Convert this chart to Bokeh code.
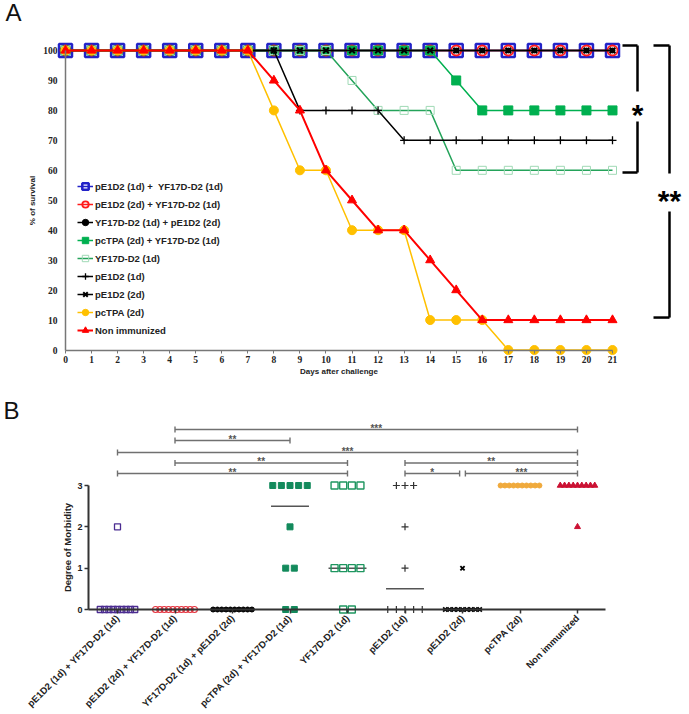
import numpy as np
from math import pi
from bokeh.plotting import figure
from bokeh.models import Range1d, FixedTicker, Legend, LegendItem, Label
from bokeh.layouts import column
from bokeh.embed import file_html
from bokeh.resources import INLINE
from bokeh.core.properties import value

# ---------------- Panel A data: % survival per day ----------------
days = [0, 1, 2, 3, 4, 5, 6, 7, 8, 9, 10, 11, 12, 13, 14, 15, 16, 17, 18, 19, 20, 21]
series_labels = [
    "pE1D2 (1d) +  YF17D-D2 (1d)",
    "pE1D2 (2d) + YF17D-D2 (1d)",
    "YF17D-D2 (1d) + pE1D2 (2d)",
    "pcTPA (2d) + YF17D-D2 (1d)",
    "YF17D-D2 (1d)",
    "pE1D2 (1d)",
    "pE1D2 (2d)",
    "pcTPA (2d)",
    "Non immunized",
]
surv_pE1D2_1d_YF = [100, 100, 100, 100, 100, 100, 100, 100, 100, 100, 100, 100, 100, 100, 100, 100, 100, 100, 100, 100, 100, 100]
surv_pE1D2_2d_YF = [100, 100, 100, 100, 100, 100, 100, 100, 100, 100, 100, 100, 100, 100, 100, 100, 100, 100, 100, 100, 100, 100]
surv_YF_pE1D2_2d = [100, 100, 100, 100, 100, 100, 100, 100, 100, 100, 100, 100, 100, 100, 100, 100, 100, 100, 100, 100, 100, 100]
surv_pcTPA_YF = [100, 100, 100, 100, 100, 100, 100, 100, 100, 100, 100, 100, 100, 100, 100, 90, 80, 80, 80, 80, 80, 80]
surv_YF = [100, 100, 100, 100, 100, 100, 100, 100, 100, 100, 100, 90, 80, 80, 80, 60, 60, 60, 60, 60, 60, 60]
surv_pE1D2_1d = [100, 100, 100, 100, 100, 100, 100, 100, 100, 80, 80, 80, 80, 70, 70, 70, 70, 70, 70, 70, 70, 70]
surv_pE1D2_2d = [100, 100, 100, 100, 100, 100, 100, 100, 100, 100, 100, 100, 100, 100, 100, 100, 100, 100, 100, 100, 100, 100]
surv_pcTPA = [100, 100, 100, 100, 100, 100, 100, 100, 80, 60, 60, 40, 40, 40, 10, 10, 10, 0, 0, 0, 0, 0]
surv_nonimm = [100, 100, 100, 100, 100, 100, 100, 100, 90, 80, 60, 50, 40, 40, 30, 20, 10, 10, 10, 10, 10, 10]
yticks_A = [0, 10, 20, 30, 40, 50, 60, 70, 80, 90, 100]
# survival comparisons: (reference group, compared group, significance)
surv_comparisons = [(0, 4, "*"), (0, 8, "**")]

# ---------------- Panel B data: degree of morbidity ----------------
groups_B = [
    "pE1D2 (1d) + YF17D-D2 (1d)",
    "pE1D2 (2d) + YF17D-D2 (1d)",
    "YF17D-D2 (1d) + pE1D2 (2d)",
    "pcTPA (2d) + YF17D-D2 (1d)",
    "YF17D-D2 (1d)",
    "pE1D2 (1d)",
    "pE1D2 (2d)",
    "pcTPA (2d)",
    "Non immunized",
]
morb_pE1D2_1d_YF = [2, 0, 0, 0, 0, 0, 0, 0, 0, 0]
morb_pE1D2_2d_YF = [0, 0, 0, 0, 0, 0, 0, 0, 0, 0]
morb_YF_pE1D2_2d = [0, 0, 0, 0, 0, 0, 0, 0, 0, 0]
morb_pcTPA_YF = [3, 3, 3, 3, 3, 2, 1, 1, 0, 0]
morb_YF = [3, 3, 3, 3, 1, 1, 1, 1, 0, 0]
morb_pE1D2_1d = [3, 3, 3, 2, 1, 0, 0, 0, 0, 0]
morb_pE1D2_2d = [1, 0, 0, 0, 0, 0, 0, 0, 0, 0]
morb_pcTPA = [3, 3, 3, 3, 3, 3, 3, 3, 3, 3]
morb_nonimm = [3, 3, 3, 3, 3, 3, 3, 3, 3, 2]
yticks_B = [0, 1, 2, 3]
# morbidity comparisons: (group i, group j, significance)
morb_comparisons = [(1, 8, "***"), (1, 3, "**"), (0, 8, "***"), (1, 4, "**"),
                    (5, 8, "**"), (0, 4, "**"), (5, 6, "*"), (6, 8, "***")]

surv_all = [surv_pE1D2_1d_YF, surv_pE1D2_2d_YF, surv_YF_pE1D2_2d, surv_pcTPA_YF, surv_YF,
            surv_pE1D2_1d, surv_pE1D2_2d, surv_pcTPA, surv_nonimm]
morb_all = [morb_pE1D2_1d_YF, morb_pE1D2_2d_YF, morb_YF_pE1D2_2d, morb_pcTPA_YF, morb_YF,
            morb_pE1D2_1d, morb_pE1D2_2d, morb_pcTPA, morb_nonimm]

SANS = value("Liberation Sans")
SERIF = "Liberation Serif"
W = 689

# ================= Panel A =================
A_H = 378
A_x0px, A_x21px, A_y100px, A_y0px = 65, 612, 50, 349.5
pxd = (A_x21px - A_x0px) / 21.0
pyd = (A_y0px - A_y100px) / 100.0

pA = figure(frame_width=W, frame_height=A_H,
            min_border_left=0, min_border_right=0, min_border_top=0, min_border_bottom=0,
            x_range=Range1d(-A_x0px / pxd, 21 + (W - A_x21px) / pxd),
            y_range=Range1d(-(A_H - A_y0px) / pyd, 100 + A_y100px / pyd),
            output_backend="svg", toolbar_location=None)
pA.outline_line_color = None
pA.grid.visible = False

A_styles = [
    dict(lc="#2323c8", lw=1.5, m="square", s=13, ml="#2323c8", mf=None, mlw=2.5),
    dict(lc="#ff1a1a", lw=1.5, m="circle", s=10, ml="#ff1a1a", mf=None, mlw=1.8),
    dict(lc="#000000", lw=1.5, m="circle", s=5, ml="#000000", mf="#000000", mlw=1),
    dict(lc="#00b050", lw=1.5, m="square", s=9, ml="#00b050", mf="#00b050", mlw=1),
    dict(lc="#24a35a", lw=1.5, m="square", s=8, ml="#9fd9b5", mf=None, mlw=1),
    dict(lc="#000000", lw=1.5, m="cross", s=8, ml="#000000", mf=None, mlw=1.3),
    dict(lc="#000000", lw=1.5, m="x", s=8, ml="#000000", mf=None, mlw=2),
    dict(lc="#ffc000", lw=1.5, m="circle", s=9, ml="#ffc000", mf="#ffc000", mlw=1),
    dict(lc="#ff0000", lw=2.0, m="triangle", s=9, ml="#ff0000", mf="#ff0000", mlw=1),
]

items = []
for lab, ys, st in zip(series_labels, surv_all, A_styles):
    lr = pA.line(days, ys, line_color=st["lc"], line_width=st["lw"])
    sr = pA.scatter(days, ys, marker=st["m"], size=st["s"], line_color=st["ml"],
                    fill_color=st["mf"], line_width=st["mlw"])
    items.append(LegendItem(label=lab, renderers=[lr, sr]))

legend = Legend(items=items, location=(77, A_H - 338),
                glyph_width=16, glyph_height=16, label_height=16, spacing=2,
                label_standoff=2, padding=0, margin=0,
                border_line_color=None, background_fill_alpha=0,
                label_text_font="Liberation Sans", label_text_font_size="9.5px",
                label_text_font_style="bold", label_text_color="#222222")
pA.add_layout(legend)

for ax in (pA.xaxis, pA.yaxis):
    ax.fixed_location = 0
    ax.axis_line_color = "#777777"
    ax.axis_line_width = 1.5
    ax.minor_tick_line_color = None
    ax.major_label_text_font = SERIF
    ax.major_label_text_font_style = "bold"
    ax.major_label_text_font_size = "9.5px"
    ax.major_label_text_color = "#222222"
    ax.axis_label_text_font = "Liberation Sans"
    ax.axis_label_text_font_style = "bold"
    ax.axis_label_text_font_size = "8px"
    ax.axis_label_text_color = "#222222"

pA.xaxis.ticker = FixedTicker(ticks=days)
pA.xaxis.bounds = (days[0], days[-1])
pA.xaxis.major_tick_in = 0
pA.xaxis.major_tick_out = 3
pA.xaxis.major_tick_line_color = "#777777"
pA.xaxis.major_label_standoff = 3
pA.xaxis.axis_label = "Days after challenge"
pA.xaxis.axis_label_standoff = 0

pA.yaxis.ticker = FixedTicker(ticks=yticks_A)
pA.yaxis.bounds = (yticks_A[0], yticks_A[-1])
pA.yaxis.major_tick_in = 0
pA.yaxis.major_tick_out = 0
pA.yaxis.major_label_standoff = 8
pA.yaxis.axis_label = "% of survival"
pA.yaxis.axis_label_standoff = 3

# significance brackets for survival (page-pixel layout -> data)
br_x_in = [622, 653]
br_x_out = [637, 669]
br_dy_top = [5, 5]
br_dy_bot = [-2.2, 2.5]
br_gap_frac = [0.52, 0.46]
br_gap_half = [15, 19]
sx0, sx1, sy0, sy1, tx, ty, tt = [], [], [], [], [], [], []
for (ga, gb, sig), xi, xo, dt, db, gf, gh in zip(surv_comparisons, br_x_in, br_x_out,
                                                   br_dy_top, br_dy_bot, br_gap_frac, br_gap_half):
    yt = surv_all[ga][-1] + dt / pyd
    yb = surv_all[gb][-1] + db / pyd
    xin = (xi - A_x0px) / pxd
    xout = (xo - A_x0px) / pxd
    yc = yb + gf * (yt - yb)
    gap = gh / pyd
    sx0 += [xin, xout, xout, xin]
    sx1 += [xout, xout, xout, xout]
    sy0 += [yt, yt, yc - gap, yb]
    sy1 += [yt, yc + gap, yb, yb]
    tx.append(xout)
    ty.append(yc)
    tt.append(sig)
pA.segment(x0=sx0, y0=sy0, x1=sx1, y1=sy1, line_color="black", line_width=2.5)
pA.text(x=tx, y=ty, text=tt, text_font=SANS, text_font_size="30px", text_font_style="bold",
        text_align="center", text_baseline="middle", y_offset=8, text_color="black")

pA.add_layout(Label(x=5, y=A_H - 12, x_units="screen", y_units="screen",
                    text="A", text_font="Liberation Sans", text_font_size="24px",
                    text_baseline="alphabetic", text_color="#111111"))

# ================= Panel B =================
B_top, B_H = A_H, 334
B_cat0px, B_catstep, B_y0px, B_ystep = 117, 57.5, 609, 41.33
B_axis_l, B_axis_r = 88, 605

def bx(px):
    return (px - B_cat0px) / B_catstep

pB = figure(frame_width=W, frame_height=B_H,
            min_border_left=0, min_border_right=0, min_border_top=0, min_border_bottom=0,
            x_range=Range1d(bx(0), bx(W)),
            y_range=Range1d((B_y0px - (B_top + B_H)) / B_ystep, (B_y0px - B_top) / B_ystep),
            output_backend="svg", toolbar_location=None)
pB.outline_line_color = None
pB.grid.visible = False

B_styles = [
    dict(m="square", s=6, lc="#4b2c91", fc=None, lw=1.3),
    dict(m="circle", s=6, lc="#e4343f", fc=None, lw=1.2),
    dict(m="circle", s=5, lc="#000000", fc="#000000", lw=1),
    dict(m="square", s=6, lc="#138a5c", fc="#138a5c", lw=1),
    dict(m="square", s=7, lc="#1f9660", fc=None, lw=1.4),
    dict(m="cross", s=7, lc="#333333", fc=None, lw=1.2),
    dict(m="x", s=6, lc="#000000", fc=None, lw=1.8),
    dict(m="circle", s=5, lc="#f0aa3c", fc="#f0aa3c", lw=1),
    dict(m="triangle", s=6, lc="#cc1133", fc="#cc1133", lw=1),
]

# medians
med_x = list(range(len(groups_B)))
med_y = [float(np.median(v)) for v in morb_all]
pB.segment(x0=[x - 0.33 for x in med_x], x1=[x + 0.33 for x in med_x], y0=med_y, y1=med_y,
           line_color="#555555", line_width=1.5)

for gi, (vals, st) in enumerate(zip(morb_all, B_styles)):
    xs, ys = [], []
    arr = np.array(vals)
    for v in sorted(set(vals)):
        n = int((arr == v).sum())
        sp = 0.075 if n >= 6 else 0.15
        offs = (np.arange(n) - (n - 1) / 2.0) * sp
        xs += list(gi + offs)
        ys += [v] * n
    pB.scatter(xs, ys, marker=st["m"], size=st["s"], line_color=st["lc"], fill_color=st["fc"],
               line_width=st["lw"])

# significance bars
bar_levels = [4.355, 4.09, 3.80, 3.545, 3.545, 3.29, 3.29, 3.29]
bar_trim = {(5, 6): (0, -0.05), (6, 8): (0.05, 0)}
cap = 3.0 / B_ystep
bx0, bx1, by0, by1, lx, ly, lt = [], [], [], [], [], [], []
for (gi, gj, sig), lev in zip(morb_comparisons, bar_levels):
    t0, t1 = bar_trim.get((gi, gj), (0, 0))
    a, b = gi + t0, gj + t1
    bx0 += [a, a, b]
    bx1 += [b, a, b]
    by0 += [lev, lev - cap, lev - cap]
    by1 += [lev, lev + cap, lev + cap]
    lx.append((a + b) / 2.0)
    ly.append(lev)
    lt.append(sig)
pB.segment(x0=bx0, x1=bx1, y0=by0, y1=by1, line_color="#707070", line_width=1.4)
pB.text(x=lx, y=ly, text=lt, text_font=SANS, text_font_size="10px", text_font_style="bold",
        text_align="center", text_baseline="alphabetic", y_offset=-1, text_color="#555555")

for ax in (pB.xaxis, pB.yaxis):
    ax.axis_line_color = "#333333"
    ax.axis_line_width = 2
    ax.major_tick_line_color = "#333333"
    ax.major_tick_line_width = 1.5
    ax.major_tick_in = 0
    ax.major_tick_out = 4
    ax.minor_tick_line_color = None
    ax.major_label_text_font = "Liberation Sans"
    ax.major_label_text_font_style = "bold"
    ax.major_label_text_color = "#222222"

pB.xaxis.fixed_location = 0
pB.xaxis.ticker = FixedTicker(ticks=list(range(len(groups_B))))
pB.xaxis.major_label_overrides = {i: g for i, g in enumerate(groups_B)}
pB.xaxis.major_label_orientation = pi / 4
pB.xaxis.major_label_text_font_size = "9.5px"
pB.xaxis.major_label_standoff = 3
pB.xaxis.bounds = (bx(B_axis_l), bx(B_axis_r))

pB.yaxis.fixed_location = bx(B_axis_l)
pB.yaxis.ticker = FixedTicker(ticks=yticks_B)
pB.yaxis.bounds = (yticks_B[0], yticks_B[-1])
pB.yaxis.major_label_text_font_size = "9px"
pB.yaxis.major_label_standoff = 2
pB.yaxis.axis_label = "Degree of Morbidity"
pB.yaxis.axis_label_text_font = "Liberation Sans"
pB.yaxis.axis_label_text_font_style = "bold"
pB.yaxis.axis_label_text_font_size = "9.5px"
pB.yaxis.axis_label_text_color = "#222222"
pB.yaxis.axis_label_standoff = 1

pB.add_layout(Label(x=3, y=(B_top + B_H) - 410, x_units="screen", y_units="screen",
                    text="B", text_font="Liberation Sans", text_font_size="24px",
                    text_baseline="alphabetic", text_color="#111111"))

layout = column(pA, pB)
open("out.html", "w").write(file_html(layout, INLINE))
